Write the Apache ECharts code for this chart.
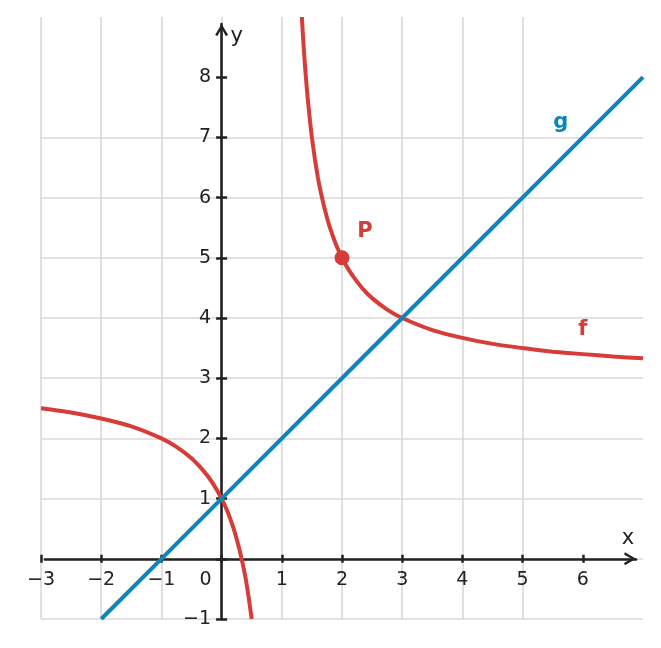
<!DOCTYPE html>
<html>
<head>
<meta charset="utf-8">
<script src="https://cdn.jsdelivr.net/npm/echarts@6.0.0/dist/echarts.min.js"></script>
<style>
  html, body { margin: 0; padding: 0; background: #ffffff; }
  #chart { width: 661px; height: 648px; }
</style>
</head>
<body>
<div id="chart"></div>
<script>
// ---- data ----
// f, left branch (x < 1)
const fLeftX = [-3, -2.5, -2, -1.5, -1, -0.75, -0.5, -0.3, -0.15, 0, 0.1, 0.2, 0.25, 0.3, 0.35, 0.4, 0.45, 0.5];
const fLeftY = [2.5, 2.43, 2.33, 2.2, 2.0, 1.86, 1.67, 1.46, 1.26, 1.0, 0.78, 0.5, 0.33, 0.14, -0.08, -0.33, -0.64, -1.0];
// f, right branch (x > 1)
const fRightX = [1.333, 1.35, 1.375, 1.4, 1.43, 1.47, 1.5, 1.55, 1.6, 1.65, 1.7, 1.75, 1.8, 1.9, 2, 2.1, 2.2, 2.35, 2.5, 2.75, 3, 3.5, 4, 4.5, 5, 5.5, 6, 6.5, 7];
const fRightY = [9.0, 8.71, 8.33, 8.0, 7.65, 7.26, 7.0, 6.64, 6.33, 6.08, 5.86, 5.67, 5.5, 5.22, 5.0, 4.82, 4.67, 4.48, 4.33, 4.14, 4.0, 3.8, 3.67, 3.57, 3.5, 3.44, 3.4, 3.36, 3.33];
// g, straight line
const gX = [-2, -1, 0, 3, 7];
const gY = [-1, 0, 1, 4, 8];
// point P
const pointP = [2, 5];
// curve name labels: anchor point on each curve
const labelNames = ['g', 'f'];
const labelAnchorX = [6, 6];
const labelAnchorY = [7, 3.4];
// axes
const xRange = [-3, 7];
const yRange = [-1, 9];
const xTicks = [-3, -2, -1, 0, 1, 2, 3, 4, 5, 6];
const yTicks = [-1, 0, 1, 2, 3, 4, 5, 6, 7, 8];
const yTickLabels = [-1, 1, 2, 3, 4, 5, 6, 7, 8];
const axisNames = ['x', 'y'];

// ---- style / layout ----
const RED = '#d63c38';
const BLUE = '#0a86bf';
const INK = '#222222';
const GRIDC = '#d9d9d9';
const FONT = 'DejaVu Sans';
const W = 661, H = 648;
const G = { left: 41, right: 18, top: 17, bottom: 29 };
const pxX = (W - G.left - G.right) / (xRange[1] - xRange[0]);
const pxY = (H - G.top - G.bottom) / (yRange[1] - yRange[0]);
const x0px = G.left + (0 - xRange[0]) * pxX;          // pixel of x = 0
const y0px = G.top + (yRange[1] - 0) * pxY;           // pixel of y = 0
// axis-line grid (arrows stop short of the plot edges)
const A = { left: 45, right: 25, top: 24, bottom: 29 };
const axMinX = xRange[0] + (A.left - G.left) / pxX;
const axMaxX = xRange[1] - (A.right - G.right) / pxX;
const axMaxY = yRange[1] - (A.top - G.top) / pxY;
const axMinY = yRange[0] + (A.bottom - G.bottom) / pxY;

const chevron = 'path://M6.5,0 L13,11 L10.7,12 L6.5,4.6 L2.3,12 L0,11 Z';
const minus = v => String(v).replace('-', '\u2212');

const zip = (xs, ys) => xs.map((x, i) => [x, ys[i]]);

const chart = echarts.init(document.getElementById('chart'), null, { renderer: 'canvas', width: W, height: H });

const option = {
  backgroundColor: '#ffffff',
  animation: false,
  grid: [
    { left: G.left, right: G.right, top: G.top, bottom: G.bottom, containLabel: false },
    { left: A.left, right: A.right, top: A.top, bottom: A.bottom, containLabel: false }
  ],
  xAxis: [
    {
      type: 'value', gridIndex: 0, min: xRange[0], max: xRange[1], interval: 1,
      position: 'bottom', offset: -((H - G.bottom) - (y0px - 4)),
      axisLine: { show: false, onZero: false },
      axisTick: { show: true, length: 8, customValues: xTicks, lineStyle: { color: INK, width: 2.5 } },
      axisLabel: {
        show: true, customValues: xTicks, margin: 16,
        color: INK, fontSize: 19, fontFamily: FONT,
        formatter: v => v === 0 ? '{z|0}' : minus(v),
        rich: { z: { padding: [0, 32, 0, 0], fontSize: 19, fontFamily: FONT, color: INK } }
      },
      splitLine: { show: true, showMaxLine: false, lineStyle: { color: GRIDC, width: 1.6 } }
    },
    {
      type: 'value', gridIndex: 1, min: axMinX, max: axMaxX,
      axisLine: { show: true, onZero: true, symbol: ['none', chevron], symbolSize: [13, 13], symbolOffset: [0, -6],
        lineStyle: { color: INK, width: 2.6 } },
      axisTick: { show: false }, axisLabel: { show: false }, splitLine: { show: false },
      name: '{n|' + axisNames[0] + '}', nameLocation: 'end', nameGap: -8,
      nameTextStyle: { color: INK, fontSize: 21, fontFamily: FONT, align: 'center', verticalAlign: 'bottom',
        rich: { n: { color: INK, fontSize: 21, fontFamily: FONT, padding: [0, 0, 10, 0] } } }
    }
  ],
  yAxis: [
    {
      type: 'value', gridIndex: 0, min: yRange[0], max: yRange[1], interval: 1,
      position: 'left', offset: G.left - (x0px + 5.5),
      axisLine: { show: false, onZero: false },
      axisTick: { show: true, length: 11, customValues: yTicks, lineStyle: { color: INK, width: 2.5 } },
      axisLabel: {
        show: true, customValues: yTickLabels, margin: 16,
        color: INK, fontSize: 19, fontFamily: FONT,
        formatter: v => minus(v)
      },
      splitLine: { show: true, showMaxLine: false, lineStyle: { color: GRIDC, width: 1.6 } }
    },
    {
      type: 'value', gridIndex: 1, min: axMinY, max: axMaxY,
      axisLine: { show: true, onZero: true, symbol: ['none', chevron], symbolSize: [13, 13], symbolOffset: [0, -6],
        lineStyle: { color: INK, width: 2.6 } },
      axisTick: { show: false }, axisLabel: { show: false }, splitLine: { show: false },
      name: axisNames[1], nameLocation: 'end', nameGap: -13,
      nameTextStyle: { color: INK, fontSize: 21, fontFamily: FONT, align: 'center', verticalAlign: 'middle', padding: [0, 0, 0, 30] }
    }
  ],
  series: [
    {
      name: 'f', type: 'line', xAxisIndex: 0, yAxisIndex: 0,
      data: zip(fLeftX, fLeftY), showSymbol: false, symbol: 'none', smooth: 0.15,
      lineStyle: { color: RED, width: 4 }, z: 3, clip: true
    },
    {
      name: 'f', type: 'line', xAxisIndex: 0, yAxisIndex: 0,
      data: zip(fRightX, fRightY), showSymbol: false, symbol: 'none', smooth: 0.15,
      lineStyle: { color: RED, width: 4 }, z: 3, clip: true
    },
    {
      name: 'g', type: 'line', xAxisIndex: 0, yAxisIndex: 0,
      data: zip(gX, gY), showSymbol: false, symbol: 'none',
      lineStyle: { color: BLUE, width: 4 }, z: 4, clip: true
    },
    {
      name: 'P', type: 'scatter', xAxisIndex: 0, yAxisIndex: 0,
      data: [pointP], symbol: 'circle', symbolSize: 15,
      itemStyle: { color: RED, opacity: 1 }, z: 6,
      label: { show: true, formatter: 'P', position: 'inside', offset: [23, -26],
        color: RED, opacity: 1, fontSize: 21, fontWeight: 'bold', fontFamily: FONT }
    },
    {
      name: 'names', type: 'scatter', xAxisIndex: 0, yAxisIndex: 0,
      symbol: 'circle', symbolSize: 1, itemStyle: { color: 'rgba(0,0,0,0)', opacity: 1 }, z: 6,
      data: labelNames.map((n, i) => ({
        value: [labelAnchorX[i], labelAnchorY[i]],
        label: {
          show: true, formatter: n, position: 'inside',
          offset: n === 'g' ? [-22, -15] : [0, -25], opacity: 1,
          color: n === 'g' ? BLUE : RED, fontSize: 21, fontWeight: 'bold', fontFamily: FONT
        }
      }))
    }
  ]
};
chart.setOption(option);
</script>
</body>
</html>
